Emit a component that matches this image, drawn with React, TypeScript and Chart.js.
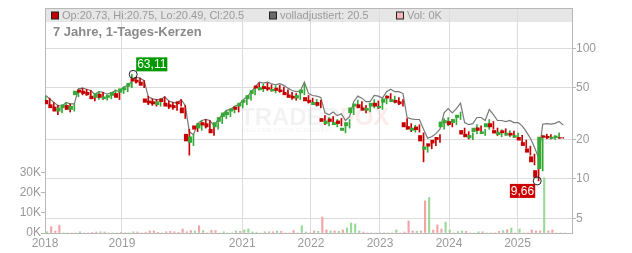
import React, { useEffect, useRef } from 'react';
import { Chart, registerables } from 'chart.js';

Chart.register(...registerables);

// ---- x axis: trading-session index ----
const SESSION_START = 2;
const SESSION_STEP = 15;
const X_MAX = 1924;

const yearLabels = ['2018', '2019', '2021', '2022', '2023', '2024', '2025'];
const yearSessions = [0, 281, 720, 971, 1223, 1475, 1725];

const priceTicks = [5, 10, 20, 50, 100];
const volumeTicks = [0, 10, 20, 30];

// ---- series ----
const opens = [
  39.5, 40, 37, 35.5, 33, 35, 36.5, 34, 44, 48,
  47, 46, 43, 42, 44.5, 41, 42, 43.5, 45, 46,
  48, 51, 58.5, 57, 55, 41, 39.5, 39, 37, 41,
  38, 37, 36.5, 39, 35, 22, 19, 25.5, 24.5, 27,
  26.5, 24, 25, 27.5, 30, 31, 33, 35.5, 36, 38.5,
  41, 45, 51.5, 48, 51, 50, 47, 49.5, 48, 46,
  44, 43, 41.5, 45.5, 42, 40, 37, 38.5, 29, 26.5,
  28.8, 26, 27.8, 23.5, 25.5, 32, 36, 37, 35, 33.5,
  36, 38, 35, 38.5, 43, 39, 40, 39, 27, 25.2,
  23.5, 25, 21.5, 16.8, 18.6, 19.8, 20.8, 25, 26.8, 27.5,
  27, 29.5, 23.5, 22, 20.6, 23, 24.6, 22.2, 25, 26.5,
  23.5, 21.8, 23.4, 21.6, 22.4, 20.8, 20.8, 19, 17, 14.8,
  11.6, 12, 21.4, 21.2, 20.4, 20.7, 20.73,
];

const closes = [
  41.5, 37.5, 35, 33, 35, 37, 34, 36, 47, 46,
  45, 44, 41, 45, 42, 42.5, 43.5, 46, 42, 49,
  50, 54, 56, 55, 52, 38.5, 38, 37.5, 39, 39,
  36, 35.5, 35, 37.5, 32, 19.5, 21, 24, 26.5, 25.8,
  25, 22.5, 27, 29.5, 32, 32.5, 34.5, 34, 38, 40,
  43.5, 47.5, 49.5, 50, 49, 48.5, 48.5, 47.5, 46.5, 44,
  42, 41.5, 43.5, 48, 39.5, 38.5, 38.5, 36.5, 27.5, 27.8,
  27.5, 27, 26.5, 24.5, 27, 35, 37.5, 35, 33.5, 34.8,
  38, 36, 36, 41, 41.5, 40.5, 38.5, 37.5, 25, 24,
  24.5, 23.8, 19.5, 17.6, 17.8, 18.8, 20, 27.3, 28, 26,
  28.5, 30.8, 22, 21, 21.5, 24.5, 23.5, 23, 26.5, 25,
  22.4, 22.8, 22.5, 22.4, 21.6, 21.5, 19.8, 18, 16, 13.5,
  10.3, 20.9, 20.8, 20.6, 20.9, 21.3, 20.5,
];

const highs = [
  43, 41.5, 38.5, 36.5, 36.5, 38.5, 37.5, 37.5, 48.5, 49.5,
  48.5, 47.5, 44.5, 46.5, 46, 44, 45, 48, 46, 50.5,
  52, 63.11, 60, 59, 56.5, 43, 41, 40.5, 41, 42.5,
  39.5, 38.5, 38, 40.5, 36.5, 24, 22, 26.5, 28, 28.5,
  28, 25.5, 28.5, 31, 33.5, 34, 36, 37, 40, 42,
  45.5, 50, 54, 53, 54, 52.5, 51.5, 52, 50.5, 48,
  46, 45, 46, 53, 43.5, 41.5, 40.5, 40, 30.5, 29.5,
  30, 28.5, 29, 26, 28.5, 37, 40, 39, 36.5, 37,
  40.5, 39.5, 38.5, 43.5, 45, 43, 42, 40.5, 29, 26.5,
  25.8, 26, 22.5, 18.5, 19.5, 20.5, 21.8, 29, 29.5, 28.5,
  30, 32.5, 24.5, 23, 22.5, 26, 25.5, 24, 28.5, 27.5,
  24.5, 23.8, 24.2, 23.4, 23.2, 22.4, 21.6, 19.8, 17.8, 15.5,
  12.2, 21.6, 22, 21.8, 21.5, 22.5, 20.75,
];

const lows = [
  38, 36, 33.5, 31, 32, 34, 32.5, 33, 42.5, 44,
  43.5, 42, 39.5, 40.5, 40.5, 40, 41, 42.5, 40.5, 45,
  46.5, 50, 54, 53, 50, 37, 36.5, 36, 36, 37.5,
  34.5, 34, 33.5, 36, 29, 15.2, 18, 23, 23.5, 24.5,
  24, 21.5, 24, 26.5, 29, 30, 32, 32.5, 35, 37,
  40, 44, 48, 46.5, 47.5, 47, 45.5, 46, 45, 42.5,
  40.5, 40, 40.5, 44, 38, 37, 36, 35, 26, 25.5,
  26.5, 25, 25.5, 22.5, 24.5, 31, 35, 34, 32, 32.5,
  35, 34.5, 34, 37.5, 40, 38, 37, 36, 24, 23,
  22.8, 22.8, 13.5, 16, 17, 18, 19, 24, 25.5, 25,
  26, 28.5, 21, 20.2, 20, 22.2, 22.5, 21.5, 24, 24,
  21.5, 21, 21.6, 21, 20.8, 20.2, 19, 17.2, 15.2, 12.8,
  9.66, 11.5, 20.3, 20.2, 20.1, 20.4, 20.49,
];

const adjusted = [
  43.5, 41, 38.5, 36.5, 36, 38.5, 37.5, 37.5, 49, 49.5,
  48.5, 47.5, 44.5, 46.5, 46, 44.5, 45.5, 47.5, 46.5, 50.5,
  52, 56, 60, 59, 56.5, 42.5, 41, 40.5, 40.5, 42.5,
  39.5, 38.5, 38, 40.5, 36.5, 23, 21.8, 26.5, 28, 28.5,
  28, 25.5, 28.5, 31, 33.5, 34, 36, 37, 40, 42.5,
  46, 50.5, 55, 54, 55, 53.5, 52.5, 53.5, 52, 49.5,
  47.5, 46.5, 47, 55, 45, 43.5, 43, 42, 32, 31,
  32.5, 30.5, 31.5, 28, 30, 39, 43, 41.5, 39, 39,
  43.5, 43, 41.5, 46.5, 48.5, 46.5, 46.5, 45, 29.5, 28.8,
  28.5, 28.5, 24, 20.5, 21, 22.2, 24, 32, 34.5, 32,
  34.5, 38, 27, 26, 26.5, 29.5, 29.5, 28, 34, 31,
  28, 28, 27.5, 28, 27, 27, 25.5, 23, 20.5, 17.5,
  14.5, 26.2, 26.5, 26.3, 26.6, 27.5, 25.8,
];

// volume in thousands
const volumesK = [
  0.6, 3.1, 1.0, 3.9, 0, 0, 0, 0, 0.6, 0,
  0, 0.3, 0.5, 0.6, 0.5, 0, 0, 0, 0.3, 0,
  0, 0.6, 0.5, 0, 0.3, 1.0, 1.0, 0.3, 0, 0.6,
  0.8, 0.6, 0.3, 2.0, 0.6, 1.2, 1.0, 3.6, 1.2, 0,
  1.3, 1.2, 0, 0.6, 0, 0, 1.0, 0.8, 1.5, 2.0,
  0.5, 0.4, 0, 0.6, 0.6, 0.6, 1.0, 0.8, 0, 0,
  1.2, 0, 3.6, 0.5, 0, 1.0, 0.8, 7.9, 1.5, 1.0,
  1.0, 0.8, 1.5, 2.5, 5.0, 4.5, 1.0, 0.5, 0, 0,
  0, 0, 0, 0, 0, 1.5, 0, 0.5, 6.0, 1.0,
  0.8, 1.0, 16, 17.7, 1.5, 4.0, 2.0, 5.4, 1.5, 0,
  0.7, 1.0, 0.8, 0, 0, 0.6, 0.6, 0, 0, 0,
  0.8, 1.2, 1.6, 2.5, 0, 2.0, 0, 0, 1.5, 1.0,
  1.0, 27.5, 1.0, 1.5, 0, 0, 0,
];

const extremeSessions = [322, 1797];
const extremeValues = [63.11, 9.66];
const extremeLabels = ['63,11', '9,66'];

const legendTexts = ['Op:20.73, Hi:20.75, Lo:20.49, Cl:20.5', 'volladjustiert: 20.5', 'Vol: 0K'];
const titleText = '7 Jahre, 1-Tages-Kerzen';

// ---- styles ----
const UP = '#36a836';
const DOWN = '#c40000';
const VOL_UP = '#9ad99a';
const VOL_DOWN = '#f2a4a8';
const GRID = '#dcdcdc';
const FRAME = '#b8b8b8';
const TEXT = '#9a9a9a';
const FONT = '"Liberation Sans", Arial, sans-serif';

const chromePlugin = {
  id: 'chrome',
  beforeDraw(chart: any) {
    const { ctx, chartArea: a } = chart;
    ctx.save();
    ctx.fillStyle = '#ffffff';
    ctx.fillRect(0, 0, chart.width, chart.height);
    ctx.fillStyle = '#e6e6e6';
    ctx.fillRect(a.left, a.top, a.right - a.left, 14);
    ctx.restore();
  },
  beforeDatasetsDraw(chart: any) {
    const { ctx, chartArea: a } = chart;
    ctx.save();
    const x0 = a.left + (a.right - a.left) * 0.37;
    const by = a.top + 117;
    ctx.font = `bold 24px ${FONT}`;
    ctx.textBaseline = 'alphabetic';
    ctx.fillStyle = 'rgba(0,0,0,0.05)';
    ctx.fillText('TRADER', x0, by);
    const w = ctx.measureText('TRADER').width;
    ctx.fillStyle = 'rgba(220,40,40,0.09)';
    ctx.fillText('FOX', x0 + w, by);
    ctx.font = `6px ${FONT}`;
    ctx.fillStyle = 'rgba(0,0,0,0.06)';
    ctx.fillText('REALTIME STOCK SCREENING', x0 + 2, by + 7);
    ctx.restore();
  },
  afterDraw(chart: any) {
    const { ctx, chartArea: a } = chart;
    ctx.save();
    ctx.strokeStyle = FRAME;
    ctx.lineWidth = 1;
    ctx.beginPath();
    ctx.moveTo(a.left, a.top + 0.5);
    ctx.lineTo(a.right, a.top + 0.5);
    ctx.stroke();

    const squares = [DOWN, '#6a6a6a', '#f4b4bc'];
    const sqX = [a.left + 6, a.left + 224, a.left + 351];
    ctx.font = `11px ${FONT}`;
    ctx.textBaseline = 'middle';
    const my = a.top + 7.5;
    squares.forEach((c, k) => {
      ctx.fillStyle = c;
      ctx.fillRect(sqX[k] + 0.5, my - 3.5, 7, 7);
      ctx.strokeStyle = '#222';
      ctx.strokeRect(sqX[k] + 0.5, my - 3.5, 7, 7);
      ctx.fillStyle = TEXT;
      ctx.fillText(legendTexts[k], sqX[k] + 11, my);
    });

    ctx.font = `bold 13px ${FONT}`;
    ctx.fillStyle = '#8a8a8a';
    ctx.fillText(titleText, a.left + 8, a.top + 24.5);

    const meta = chart.getDatasetMeta(4);
    ctx.font = `12px ${FONT}`;
    meta.data.forEach((pt: any, k: number) => {
      const label = extremeLabels[k];
      const tw = ctx.measureText(label).width;
      const bw = tw + 2;
      const bh = 14;
      let bx: number, byy: number;
      if (k === 0) {
        bx = pt.x + 3;
        byy = pt.y - 3 - bh;
        ctx.fillStyle = '#009a00';
      } else {
        bx = pt.x - 2 - bw;
        byy = pt.y + 3;
        ctx.fillStyle = '#cc0000';
      }
      ctx.fillRect(bx, byy, bw, bh);
      ctx.fillStyle = '#ffffff';
      ctx.textBaseline = 'middle';
      ctx.fillText(label, bx + 1, byy + bh / 2 + 0.5);
    });
    ctx.restore();
  },
};

export default function App() {
  const ref = useRef<HTMLCanvasElement | null>(null);

  useEffect(() => {
    if (!ref.current) return;
    const sessions = closes.map((_, i) => SESSION_START + SESSION_STEP * i);
    const isUp = closes.map((c, i) => c >= opens[i]);
    const candleColors = isUp.map((u) => (u ? UP : DOWN));

    const chart = new Chart(ref.current, {
      type: 'bar',
      data: {
        datasets: [
          {
            type: 'bar',
            label: 'bodies',
            data: sessions.map((s, i) => ({ x: s, y: [opens[i], closes[i]] })) as any,
            backgroundColor: candleColors,
            borderWidth: 0,
            barThickness: 3.4,
            yAxisID: 'price',
            order: 1,
          } as any,
          {
            type: 'bar',
            label: 'wicks',
            data: sessions.map((s, i) => ({ x: s, y: [lows[i], highs[i]] })) as any,
            backgroundColor: candleColors,
            borderWidth: 0,
            barThickness: 1,
            yAxisID: 'price',
            order: 2,
          } as any,
          {
            type: 'line',
            label: 'volladjustiert',
            data: sessions.map((s, i) => ({ x: s, y: adjusted[i] })),
            borderColor: '#787878',
            borderWidth: 1.2,
            pointRadius: 0,
            tension: 0,
            yAxisID: 'price',
            order: 3,
          } as any,
          {
            type: 'bar',
            label: 'vol',
            data: sessions.map((s, i) => ({ x: s, y: volumesK[i] })),
            backgroundColor: isUp.map((u) => (u ? VOL_UP : VOL_DOWN)),
            borderWidth: 0,
            barThickness: 1.5,
            yAxisID: 'vol',
            order: 4,
          } as any,
          {
            type: 'line',
            label: 'extremes',
            data: extremeSessions.map((s, k) => ({ x: s, y: extremeValues[k] })),
            showLine: false,
            pointRadius: 4,
            pointBorderColor: '#222',
            pointBackgroundColor: 'rgba(0,0,0,0)',
            pointBorderWidth: 1,
            yAxisID: 'price',
            order: 0,
          } as any,
        ],
      },
      options: {
        responsive: false,
        animation: false,
        events: [],
        layout: { padding: { top: 8, left: 0, right: 0, bottom: 0 } },
        plugins: { legend: { display: false }, tooltip: { enabled: false } },
        scales: {
          x: {
            type: 'linear',
            min: 0,
            max: X_MAX,
            offset: false,
            grid: { color: GRID, offset: false, drawTicks: false },
            border: { color: FRAME },
            afterBuildTicks: (s: any) => {
              s.ticks = yearSessions.map((v) => ({ value: v }));
            },
            afterFit: (s: any) => {
              s.height = 20;
            },
            ticks: {
              autoSkip: false,
              maxRotation: 0,
              padding: 3,
              color: TEXT,
              font: { size: 12, family: FONT },
              callback: (v: any) => {
                const k = yearSessions.indexOf(Number(v));
                return k >= 0 ? yearLabels[k] : '';
              },
            },
          },
          price: {
            type: 'logarithmic',
            position: 'right',
            min: 3.86,
            max: 203,
            grid: { color: GRID, tickLength: 4, tickColor: FRAME },
            border: { color: FRAME },
            afterBuildTicks: (s: any) => {
              s.ticks = priceTicks.map((v) => ({ value: v }));
            },
            afterFit: (s: any) => {
              s.width = 60;
            },
            ticks: {
              padding: 0,
              color: TEXT,
              font: { size: 12, family: FONT },
              callback: (v: any) => String(v),
            },
          },
          vol: {
            type: 'linear',
            position: 'left',
            min: 0,
            max: 112,
            grid: { drawOnChartArea: false, tickLength: 4, tickColor: FRAME },
            border: { color: FRAME },
            afterBuildTicks: (s: any) => {
              s.ticks = volumeTicks.map((v) => ({ value: v }));
            },
            afterFit: (s: any) => {
              s.width = 45;
            },
            ticks: {
              padding: 0,
              color: TEXT,
              font: { size: 12, family: FONT },
              callback: (v: any) => `${v}K`,
            },
          },
        },
      } as any,
      plugins: [chromePlugin],
    });
    return () => chart.destroy();
  }, []);

  return (
    <div style={{ position: 'absolute', left: 0, top: 0, width: 632, height: 253 }}>
      <canvas ref={ref} width={632} height={253} style={{ display: 'block' }} />
    </div>
  );
}
